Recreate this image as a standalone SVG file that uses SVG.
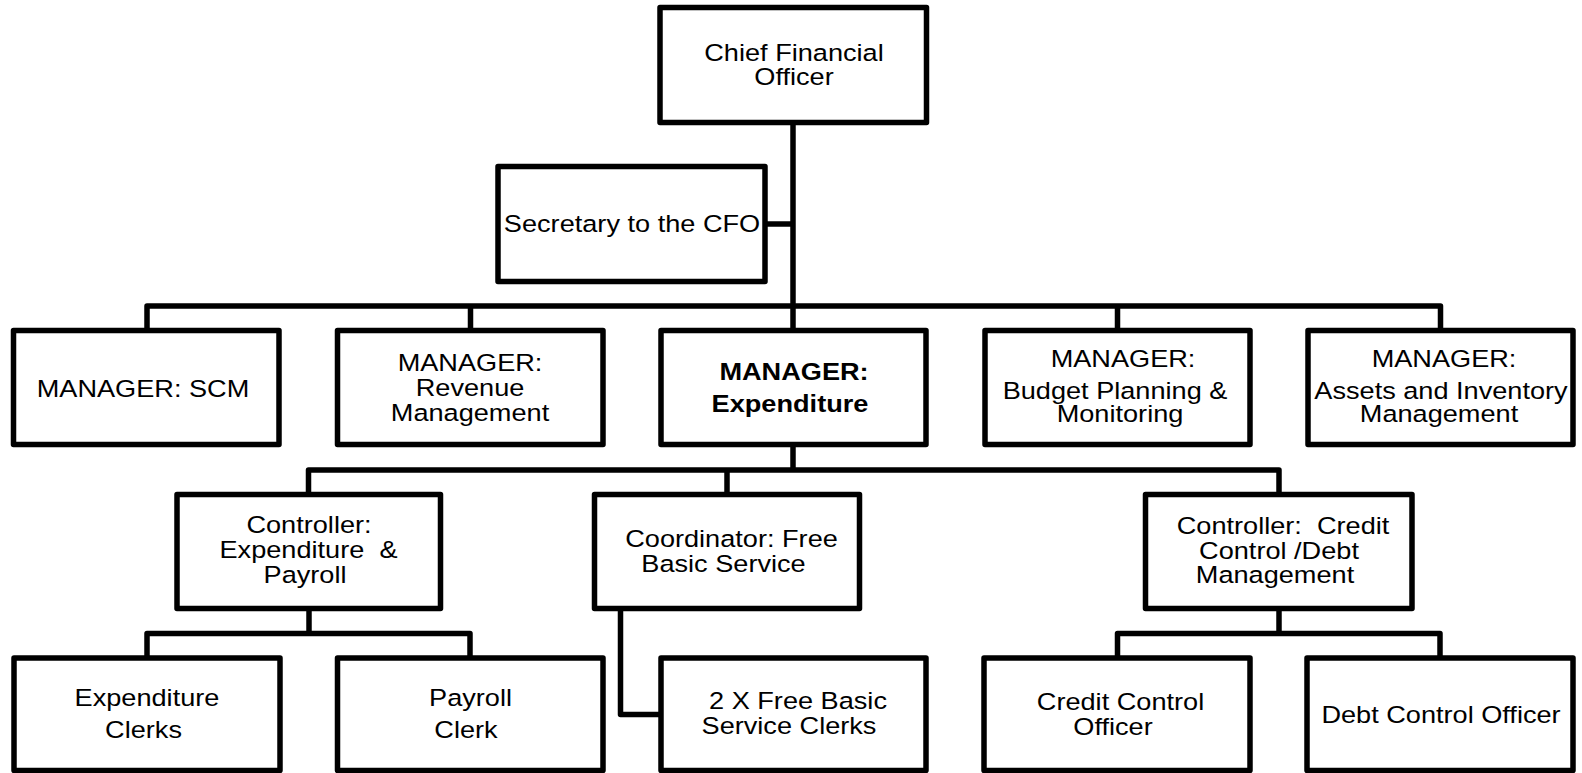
<svg xmlns="http://www.w3.org/2000/svg" width="1582" height="773" viewBox="0 0 1582 773">
<style>
.box{fill:#fff;stroke:#000;stroke-width:5.5;stroke-linejoin:round}
.ln{fill:none;stroke:#000;stroke-width:5.5;stroke-linejoin:round}
.t{font-family:"Liberation Sans",Arial,sans-serif;font-size:23.3px;fill:#000;text-anchor:middle}
.b{font-weight:bold}
</style>
<rect width="1582" height="773" fill="#fff"/>
<g id="connectors">
<path class="ln" d="M793 122.5V330.5"/>
<path class="ln" d="M765 224H793"/>
<path class="ln" d="M147 330.5V306H1440.5V330.5"/>
<path class="ln" d="M470.5 306V330.5M1117.5 306V330.5"/>
<path class="ln" d="M793 444.5V470"/>
<path class="ln" d="M308.5 494.5V470H1279V494.5"/>
<path class="ln" d="M727 470V494.5"/>
<path class="ln" d="M309 608.5V633.5"/>
<path class="ln" d="M147 658V633.5H470V658"/>
<path class="ln" d="M620.5 608.5V714.5H661"/>
<path class="ln" d="M1279 608.5V633.5"/>
<path class="ln" d="M1117.5 658V633.5H1440V658"/>
</g>
<g id="cfo">
<rect class="box" x="660" y="7.5" width="266.5" height="115"/>
<text class="t" transform="matrix(1.165 0 0 1 794 60.5)">Chief Financial</text>
<text class="t" transform="matrix(1.165 0 0 1 794 85)">Officer</text>
</g>
<g id="secretary">
<rect class="box" x="498" y="166.5" width="267" height="115"/>
<text class="t" transform="matrix(1.165 0 0 1 632 232)">Secretary to the CFO</text>
</g>
<g id="mgr-scm">
<rect class="box" x="13.5" y="330.5" width="265.5" height="114"/>
<text class="t" transform="matrix(1.165 0 0 1 143 396.5)">MANAGER: SCM</text>
</g>
<g id="mgr-revenue">
<rect class="box" x="337.5" y="330.5" width="265.5" height="114"/>
<text class="t" transform="matrix(1.165 0 0 1 470 371)">MANAGER:</text>
<text class="t" transform="matrix(1.165 0 0 1 470 396)">Revenue</text>
<text class="t" transform="matrix(1.165 0 0 1 470 420.5)">Management</text>
</g>
<g id="mgr-expenditure">
<rect class="box" x="661" y="330.5" width="265" height="114"/>
<text class="t b" transform="matrix(1.165 0 0 1 794 380)">MANAGER:</text>
<text class="t b" transform="matrix(1.165 0 0 1 790 411.5)">Expenditure</text>
</g>
<g id="mgr-budget">
<rect class="box" x="985" y="330.5" width="265" height="114"/>
<text class="t" transform="matrix(1.165 0 0 1 1123 367)">MANAGER:</text>
<text class="t" transform="matrix(1.165 0 0 1 1115 398.5)">Budget Planning &amp;</text>
<text class="t" transform="matrix(1.165 0 0 1 1120 422)">Monitoring</text>
</g>
<g id="mgr-assets">
<rect class="box" x="1308" y="330.5" width="265" height="114"/>
<text class="t" transform="matrix(1.165 0 0 1 1444 367)">MANAGER:</text>
<text class="t" transform="matrix(1.165 0 0 1 1441 398.5)">Assets and Inventory</text>
<text class="t" transform="matrix(1.165 0 0 1 1439 422)">Management</text>
</g>
<g id="ctrl-exp-payroll">
<rect class="box" x="177" y="494.5" width="263.5" height="114"/>
<text class="t" transform="matrix(1.165 0 0 1 309 533)">Controller:</text>
<text class="t" xml:space="preserve" transform="matrix(1.165 0 0 1 308.5 558)">Expenditure  &amp;</text>
<text class="t" transform="matrix(1.165 0 0 1 305 582.5)">Payroll</text>
</g>
<g id="coord-fbs">
<rect class="box" x="594.5" y="494.5" width="265" height="114"/>
<text class="t" transform="matrix(1.165 0 0 1 731.5 546.5)">Coordinator: Free</text>
<text class="t" transform="matrix(1.165 0 0 1 723.5 571.5)">Basic Service</text>
</g>
<g id="ctrl-credit">
<rect class="box" x="1145.5" y="494.5" width="266.5" height="114"/>
<text class="t" xml:space="preserve" transform="matrix(1.165 0 0 1 1283 534)">Controller:  Credit</text>
<text class="t" transform="matrix(1.165 0 0 1 1279 558.5)">Control /Debt</text>
<text class="t" transform="matrix(1.165 0 0 1 1275 583)">Management</text>
</g>
<g id="exp-clerks">
<rect class="box" x="14" y="658" width="266" height="112.5"/>
<text class="t" transform="matrix(1.165 0 0 1 147 706)">Expenditure</text>
<text class="t" transform="matrix(1.165 0 0 1 143.5 738)">Clerks</text>
</g>
<g id="payroll-clerk">
<rect class="box" x="337.5" y="658" width="265.5" height="112.5"/>
<text class="t" transform="matrix(1.165 0 0 1 470.5 705.5)">Payroll</text>
<text class="t" transform="matrix(1.165 0 0 1 466 738)">Clerk</text>
</g>
<g id="fbs-clerks">
<rect class="box" x="661" y="658" width="265" height="112.5"/>
<text class="t" transform="matrix(1.165 0 0 1 798 709)">2 X Free Basic</text>
<text class="t" transform="matrix(1.165 0 0 1 789 734)">Service Clerks</text>
</g>
<g id="credit-officer">
<rect class="box" x="984" y="658" width="266" height="112.5"/>
<text class="t" transform="matrix(1.165 0 0 1 1120.5 710)">Credit Control</text>
<text class="t" transform="matrix(1.165 0 0 1 1113 734.5)">Officer</text>
</g>
<g id="debt-officer">
<rect class="box" x="1307" y="658" width="266" height="112.5"/>
<text class="t" transform="matrix(1.165 0 0 1 1441 722.5)">Debt Control Officer</text>
</g>
</svg>
